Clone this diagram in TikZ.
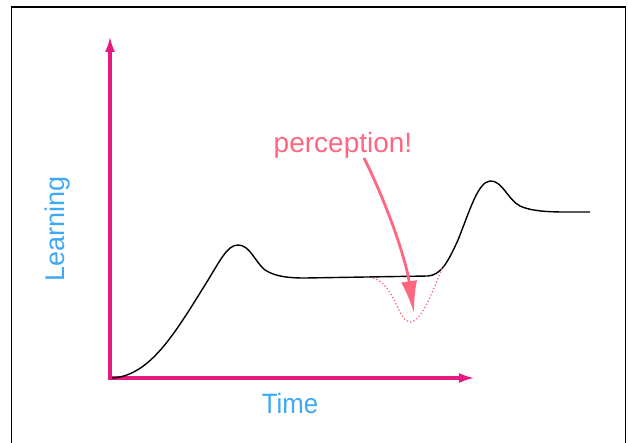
\documentclass[tikz,border=0pt]{standalone}
\usepackage{fontspec}
\setmainfont{Liberation Sans}
\usetikzlibrary{arrows.meta}
\definecolor{axiscol}{RGB}{230,27,128}
\definecolor{labelblue}{RGB}{63,169,245}
\definecolor{percol}{RGB}{255,102,128}
\tikzset{
  axisline/.style={draw=axiscol, line width=3.2pt, -{Latex[length=16pt,width=10pt]}},
  curveline/.style={draw=black, line width=1.4pt},
  dotline/.style={draw=percol, line width=1.3pt, dash pattern=on 1.3pt off 2.2pt},
  perarrow/.style={draw=percol, line width=2.8pt, -{Latex[length=32pt,width=16pt]}},
  axislabel/.style={text=labelblue, inner sep=0pt, anchor=base},
  framebox/.style={draw=black, line width=1.6pt}
}
\begin{document}
\begin{tikzpicture}[x=1pt,y=-1pt]
\useasboundingbox (0,0) rectangle (628,443);
\clip (0,0) rectangle (628,443);
\fill[white] (0,0) rectangle (628,443);
\draw[framebox] (11.5,460) -- (11.5,7) -- (625.5,7) -- (625.5,460);

\coordinate (origin) at (110,378);
\coordinate (ytip) at (110,36);
\coordinate (xtip) at (475,378);
\draw[axisline] (origin) -- (ytip);
\draw[axisline] ([xshift=-1.6pt]origin) -- (xtip);

\coordinate (c0) at (112,378);
\coordinate (c1) at (205,285);
\coordinate (peak1) at (238,245);
\coordinate (c2) at (265,270);
\coordinate (plat0) at (305,278);
\coordinate (plat1) at (428,276);
\coordinate (c3) at (458,240);
\coordinate (peak2) at (490,181);
\coordinate (c4) at (520,206);
\coordinate (cend) at (590,212);
\draw[curveline] (c0) .. controls (150,376) and (175,333) .. (c1)
  .. controls (220,261) and (227,245) .. (peak1)
  .. controls (250,245) and (255,262) .. (c2)
  .. controls (276,277) and (290,278) .. (plat0)
  -- (plat1)
  .. controls (441,275) and (448,262) .. (c3)
  .. controls (470,210) and (478,182) .. (peak2)
  .. controls (502,180) and (508,200) .. (c4)
  .. controls (535,213) and (560,212) .. (cend);

\coordinate (d0) at (373,278);
\coordinate (dlow) at (410,322);
\coordinate (d1) at (443,266);
\draw[dotline] (d0) .. controls (395,284) and (398,322) .. (dlow)
  .. controls (422,322) and (433,290) .. (d1);

\node[text=percol, font=\fontsize{28}{30}\selectfont, inner sep=0pt, anchor=base] (per) at (343,153) {perception!};
\coordinate (pstart) at (364,158);
\coordinate (ptip) at (414,313);
\draw[perarrow] (pstart) .. controls (385,200) and (405,255) .. (ptip);

\node[axislabel, rotate=90, font=\fontsize{27}{29}\selectfont] (ylab) at (64,229) {Learning};
\node[axislabel, font=\fontsize{28}{30}\selectfont] (xlab) at (290,413) {\scalebox{0.92}[1]{Time}};
\end{tikzpicture}
\end{document}
